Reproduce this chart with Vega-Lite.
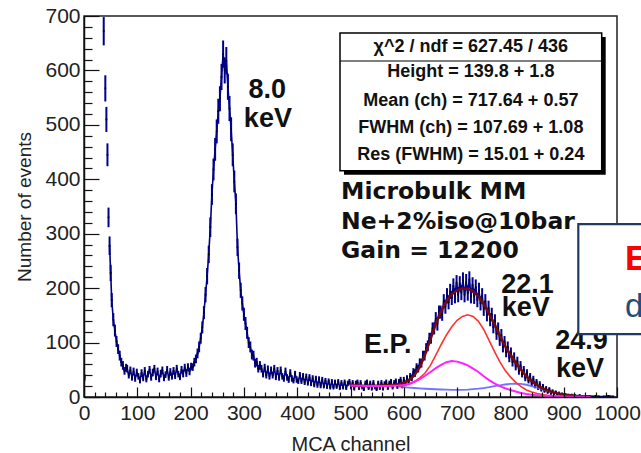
{
  "$schema": "https://vega.github.io/schema/vega-lite/v6.json",
  "width": 533,
  "height": 381,
  "autosize": {"type": "none"},
  "padding": {"left": 84, "top": 16, "right": 24, "bottom": 56},
  "background": "white",
  "config": {
    "view": {"stroke": "#222", "strokeWidth": 1.5},
    "font": "Liberation Sans"
  },
  "datasets": {
    "hist": [
      {"c":1,"n":36,"l":30,"h":42},{"c":37,"n":672,"l":646,"h":698},{"c":40,"n":567,"l":543,"h":591},{"c":42,"n":510,"l":487,"h":533},{"c":44,"n":445,"l":424,"h":466},{"c":46,"n":330,"l":312,"h":348},{"c":48,"n":278,"l":261,"h":295},{"c":50,"n":228,"l":213,"h":243},{"c":52,"n":178,"l":165,"h":191},{"c":55,"n":142,"l":130,"h":154},{"c":58,"n":122,"l":111,"h":133},{"c":61,"n":102,"l":92,"h":112},{"c":64,"n":88,"l":79,"h":97},{"c":67,"n":76,"l":67,"h":85},{"c":70,"n":64,"l":56,"h":72},{"c":73,"n":58,"l":50,"h":66},{"c":76,"n":48,"l":41,"h":55},{"c":79,"n":54,"l":47,"h":61},
      {"c":81,"n":52,"l":45,"h":59},{"c":84,"n":40,"l":34,"h":46},{"c":87,"n":49,"l":42,"h":56},{"c":90,"n":36,"l":30,"h":42},{"c":93,"n":47,"l":40,"h":54},{"c":96,"n":34,"l":28,"h":40},{"c":99,"n":45,"l":38,"h":52},{"c":102,"n":38,"l":32,"h":44},{"c":105,"n":31,"l":25,"h":37},{"c":108,"n":44,"l":37,"h":51},{"c":111,"n":35,"l":29,"h":41},{"c":114,"n":48,"l":41,"h":55},{"c":117,"n":33,"l":27,"h":39},{"c":120,"n":42,"l":36,"h":48},{"c":123,"n":50,"l":43,"h":57},{"c":126,"n":36,"l":30,"h":42},{"c":129,"n":45,"l":38,"h":52},{"c":132,"n":52,"l":45,"h":59},{"c":135,"n":37,"l":31,"h":43},{"c":138,"n":47,"l":40,"h":54},{"c":141,"n":33,"l":27,"h":39},{"c":144,"n":43,"l":36,"h":50},{"c":147,"n":49,"l":42,"h":56},{"c":150,"n":35,"l":29,"h":41},{"c":153,"n":41,"l":35,"h":47},{"c":156,"n":50,"l":43,"h":57},{"c":159,"n":36,"l":30,"h":42},{"c":162,"n":46,"l":39,"h":53},{"c":165,"n":38,"l":32,"h":44},{"c":168,"n":48,"l":41,"h":55},{"c":171,"n":39,"l":33,"h":45},{"c":174,"n":52,"l":45,"h":59},{"c":177,"n":42,"l":36,"h":48},{"c":180,"n":37,"l":31,"h":43},{"c":183,"n":50,"l":43,"h":57},{"c":186,"n":43,"l":36,"h":50},{"c":189,"n":54,"l":47,"h":61},{"c":192,"n":44,"l":37,"h":51},{"c":195,"n":55,"l":48,"h":62},{"c":198,"n":47,"l":40,"h":54},
      {"c":201,"n":56,"l":49,"h":63},{"c":204,"n":55,"l":48,"h":62},{"c":207,"n":64,"l":56,"h":72},{"c":210,"n":70,"l":62,"h":78},{"c":213,"n":80,"l":71,"h":89},{"c":216,"n":92,"l":82,"h":102},{"c":219,"n":108,"l":98,"h":118},{"c":222,"n":128,"l":117,"h":139},{"c":225,"n":155,"l":143,"h":167},{"c":228,"n":188,"l":174,"h":202},{"c":231,"n":222,"l":207,"h":237},{"c":234,"n":262,"l":246,"h":278},{"c":237,"n":312,"l":294,"h":330},{"c":240,"n":372,"l":353,"h":391},{"c":243,"n":418,"l":398,"h":438},{"c":246,"n":455,"l":434,"h":476},{"c":249,"n":488,"l":466,"h":510},{"c":252,"n":525,"l":502,"h":548},{"c":255,"n":548,"l":525,"h":571},{"c":258,"n":588,"l":564,"h":612},{"c":261,"n":630,"l":605,"h":655},{"c":264,"n":600,"l":576,"h":624},{"c":267,"n":618,"l":593,"h":643},{"c":270,"n":570,"l":546,"h":594},{"c":273,"n":530,"l":507,"h":553},{"c":276,"n":492,"l":470,"h":514},{"c":279,"n":445,"l":424,"h":466},{"c":282,"n":396,"l":376,"h":416},{"c":285,"n":355,"l":336,"h":374},{"c":288,"n":275,"l":259,"h":291},{"c":291,"n":232,"l":217,"h":247},{"c":294,"n":196,"l":182,"h":210},{"c":297,"n":172,"l":159,"h":185},{"c":300,"n":152,"l":140,"h":164},{"c":303,"n":135,"l":123,"h":147},{"c":306,"n":118,"l":107,"h":129},{"c":309,"n":100,"l":90,"h":110},{"c":312,"n":92,"l":82,"h":102},{"c":315,"n":78,"l":69,"h":87},{"c":318,"n":76,"l":67,"h":85},{"c":321,"n":62,"l":54,"h":70},{"c":324,"n":64,"l":56,"h":72},{"c":327,"n":52,"l":45,"h":59},{"c":330,"n":58,"l":50,"h":66},
      {"c":333,"n":52,"l":45,"h":59},{"c":336,"n":42,"l":36,"h":48},{"c":339,"n":54,"l":47,"h":61},{"c":342,"n":40,"l":34,"h":46},{"c":345,"n":51,"l":44,"h":58},{"c":348,"n":38,"l":32,"h":44},{"c":351,"n":49,"l":42,"h":56},{"c":354,"n":40,"l":34,"h":46},{"c":357,"n":52,"l":45,"h":59},{"c":360,"n":37,"l":31,"h":43},{"c":363,"n":48,"l":41,"h":55},{"c":366,"n":36,"l":30,"h":42},{"c":369,"n":49,"l":42,"h":56},{"c":372,"n":38,"l":32,"h":44},{"c":375,"n":34,"l":28,"h":40},{"c":378,"n":47,"l":40,"h":54},{"c":381,"n":36,"l":30,"h":42},{"c":384,"n":32,"l":26,"h":38},{"c":387,"n":44,"l":37,"h":51},{"c":390,"n":34,"l":28,"h":40},{"c":393,"n":30,"l":25,"h":35},{"c":396,"n":42,"l":36,"h":48},{"c":399,"n":32,"l":26,"h":38},{"c":402,"n":29,"l":24,"h":34},{"c":405,"n":40,"l":34,"h":46},{"c":408,"n":29,"l":24,"h":34},{"c":411,"n":38,"l":32,"h":44},{"c":414,"n":27,"l":22,"h":32},{"c":417,"n":37,"l":31,"h":43},{"c":420,"n":26,"l":21,"h":31},{"c":423,"n":36,"l":30,"h":42},{"c":426,"n":25,"l":20,"h":30},{"c":429,"n":34,"l":28,"h":40},{"c":432,"n":23,"l":18,"h":28},{"c":435,"n":33,"l":27,"h":39},{"c":438,"n":22,"l":17,"h":27},{"c":441,"n":32,"l":26,"h":38},{"c":444,"n":21,"l":16,"h":26},{"c":447,"n":31,"l":25,"h":37},{"c":450,"n":20,"l":16,"h":24},{"c":453,"n":30,"l":25,"h":35},{"c":456,"n":19,"l":15,"h":23},{"c":459,"n":29,"l":24,"h":34},{"c":462,"n":18,"l":14,"h":22},{"c":465,"n":28,"l":23,"h":33},{"c":468,"n":18,"l":14,"h":22},{"c":471,"n":27,"l":22,"h":32},{"c":474,"n":19,"l":15,"h":23},{"c":477,"n":28,"l":23,"h":33},{"c":480,"n":17,"l":13,"h":21},{"c":483,"n":26,"l":21,"h":31},{"c":486,"n":18,"l":14,"h":22},{"c":489,"n":27,"l":22,"h":32},{"c":492,"n":17,"l":13,"h":21},{"c":495,"n":25,"l":20,"h":30},{"c":498,"n":28,"l":23,"h":33},
      {"c":501,"n":18,"l":14,"h":22},{"c":504,"n":26,"l":21,"h":31},{"c":507,"n":16,"l":12,"h":20},{"c":510,"n":25,"l":20,"h":30},{"c":513,"n":27,"l":22,"h":32},{"c":516,"n":17,"l":13,"h":21},{"c":519,"n":26,"l":21,"h":31},{"c":522,"n":18,"l":14,"h":22},{"c":525,"n":15,"l":11,"h":19},{"c":528,"n":25,"l":20,"h":30},{"c":531,"n":27,"l":22,"h":32},{"c":534,"n":17,"l":13,"h":21},{"c":537,"n":25,"l":20,"h":30},{"c":540,"n":16,"l":12,"h":20},{"c":543,"n":26,"l":21,"h":31},{"c":546,"n":18,"l":14,"h":22},{"c":549,"n":15,"l":11,"h":19},{"c":552,"n":25,"l":20,"h":30},{"c":555,"n":17,"l":13,"h":21},{"c":558,"n":26,"l":21,"h":31},{"c":561,"n":16,"l":12,"h":20},{"c":564,"n":24,"l":19,"h":29},{"c":567,"n":27,"l":22,"h":32},{"c":570,"n":17,"l":13,"h":21},{"c":573,"n":25,"l":20,"h":30},{"c":576,"n":28,"l":23,"h":33},{"c":579,"n":18,"l":14,"h":22},{"c":582,"n":26,"l":21,"h":31},{"c":585,"n":29,"l":24,"h":34},{"c":588,"n":19,"l":15,"h":23},{"c":591,"n":28,"l":23,"h":33},{"c":594,"n":31,"l":25,"h":37},{"c":597,"n":21,"l":16,"h":26},
      {"c":600,"n":31,"l":25,"h":37},{"c":603,"n":25,"l":20,"h":30},{"c":606,"n":34,"l":28,"h":40},{"c":609,"n":28,"l":23,"h":33},{"c":612,"n":38,"l":32,"h":44},{"c":615,"n":35,"l":29,"h":41},{"c":618,"n":46,"l":39,"h":53},{"c":621,"n":44,"l":37,"h":51},{"c":624,"n":55,"l":48,"h":62},{"c":627,"n":52,"l":45,"h":59},{"c":630,"n":63,"l":55,"h":71},{"c":633,"n":62,"l":54,"h":70},{"c":636,"n":76,"l":67,"h":85},{"c":639,"n":76,"l":67,"h":85},{"c":642,"n":90,"l":81,"h":99},{"c":645,"n":94,"l":84,"h":104},{"c":648,"n":108,"l":98,"h":118},{"c":651,"n":108,"l":98,"h":118},{"c":654,"n":126,"l":115,"h":137},{"c":657,"n":126,"l":115,"h":137},{"c":660,"n":144,"l":132,"h":156},{"c":663,"n":134,"l":122,"h":146},{"c":666,"n":156,"l":144,"h":168},{"c":669,"n":156,"l":144,"h":168},{"c":672,"n":152,"l":140,"h":164},{"c":675,"n":176,"l":163,"h":189},{"c":678,"n":166,"l":153,"h":179},{"c":681,"n":186,"l":172,"h":200},{"c":684,"n":174,"l":161,"h":187},{"c":687,"n":194,"l":180,"h":208},{"c":690,"n":182,"l":169,"h":195},{"c":693,"n":204,"l":190,"h":218},{"c":696,"n":186,"l":172,"h":200},{"c":699,"n":210,"l":196,"h":224},{"c":702,"n":188,"l":174,"h":202},{"c":705,"n":208,"l":194,"h":222},{"c":708,"n":192,"l":178,"h":206},{"c":711,"n":214,"l":199,"h":229},{"c":714,"n":188,"l":174,"h":202},{"c":717,"n":211,"l":196,"h":226},{"c":720,"n":191,"l":177,"h":205},{"c":723,"n":216,"l":201,"h":231},{"c":726,"n":186,"l":172,"h":200},{"c":729,"n":206,"l":192,"h":220},{"c":732,"n":185,"l":171,"h":199},{"c":735,"n":202,"l":188,"h":216},{"c":738,"n":178,"l":165,"h":191},{"c":741,"n":196,"l":182,"h":210},{"c":744,"n":172,"l":159,"h":185},{"c":747,"n":186,"l":172,"h":200},{"c":750,"n":162,"l":149,"h":175},{"c":753,"n":176,"l":163,"h":189},{"c":756,"n":151,"l":139,"h":163},{"c":759,"n":164,"l":151,"h":177},{"c":762,"n":142,"l":130,"h":154},{"c":765,"n":152,"l":140,"h":164},{"c":768,"n":128,"l":117,"h":139},{"c":771,"n":140,"l":128,"h":152},{"c":774,"n":116,"l":105,"h":127},{"c":777,"n":126,"l":115,"h":137},{"c":780,"n":104,"l":94,"h":114},{"c":783,"n":114,"l":103,"h":125},{"c":786,"n":92,"l":82,"h":102},{"c":789,"n":102,"l":92,"h":112},{"c":792,"n":82,"l":73,"h":91},{"c":795,"n":92,"l":82,"h":102},{"c":798,"n":72,"l":64,"h":80},{"c":801,"n":82,"l":73,"h":91},{"c":804,"n":64,"l":56,"h":72},{"c":807,"n":73,"l":64,"h":82},{"c":810,"n":56,"l":49,"h":63},{"c":813,"n":66,"l":58,"h":74},{"c":816,"n":48,"l":41,"h":55},{"c":819,"n":58,"l":50,"h":66},{"c":822,"n":42,"l":36,"h":48},{"c":825,"n":50,"l":43,"h":57},{"c":828,"n":35,"l":29,"h":41},{"c":831,"n":44,"l":37,"h":51},{"c":834,"n":30,"l":25,"h":35},{"c":837,"n":38,"l":32,"h":44},{"c":840,"n":25,"l":20,"h":30},{"c":843,"n":33,"l":27,"h":39},{"c":846,"n":21,"l":16,"h":26},{"c":849,"n":28,"l":23,"h":33},{"c":852,"n":17,"l":13,"h":21},{"c":855,"n":24,"l":19,"h":29},{"c":858,"n":14,"l":10,"h":18},{"c":861,"n":20,"l":16,"h":24},{"c":864,"n":11,"l":8,"h":14},{"c":867,"n":16,"l":12,"h":20},{"c":870,"n":9,"l":6,"h":12},{"c":873,"n":14,"l":10,"h":18},{"c":876,"n":7,"l":4,"h":10},{"c":879,"n":11,"l":8,"h":14},{"c":882,"n":6,"l":4,"h":8},{"c":885,"n":9,"l":6,"h":12},{"c":888,"n":5,"l":3,"h":7},{"c":891,"n":7,"l":4,"h":10},{"c":894,"n":4,"l":2,"h":6},{"c":897,"n":6,"l":4,"h":8},
      {"c":900,"n":3,"l":1,"h":5},{"c":903,"n":5,"l":3,"h":7},{"c":906,"n":3,"l":1,"h":5},{"c":909,"n":4,"l":2,"h":6},{"c":912,"n":2,"l":1,"h":3},{"c":915,"n":4,"l":2,"h":6},{"c":918,"n":2,"l":1,"h":3},{"c":921,"n":3,"l":1,"h":5},{"c":924,"n":2,"l":1,"h":3},{"c":927,"n":1,"l":0,"h":2},{"c":930,"n":3,"l":1,"h":5},{"c":933,"n":1,"l":0,"h":2},{"c":936,"n":2,"l":1,"h":3},{"c":939,"n":1,"l":0,"h":2},{"c":942,"n":2,"l":1,"h":3},{"c":945,"n":1,"l":0,"h":2},{"c":948,"n":2,"l":1,"h":3},{"c":951,"n":1,"l":0,"h":2},{"c":954,"n":1,"l":0,"h":2},{"c":960,"n":2,"l":1,"h":3},{"c":966,"n":1,"l":0,"h":2},{"c":975,"n":1,"l":0,"h":2},{"c":984,"n":2,"l":1,"h":3},{"c":993,"n":1,"l":0,"h":2}
    ],
    "fits": [
      {"c":500,"tot":21,"red":null,"mag":21,"blu":null},
      {"c":510,"tot":20.8,"red":null,"mag":20.7,"blu":null},
      {"c":520,"tot":20.5,"red":null,"mag":20.5,"blu":null},
      {"c":530,"tot":20.4,"red":null,"mag":20.2,"blu":null},
      {"c":540,"tot":20.5,"red":null,"mag":20,"blu":null},
      {"c":550,"tot":20.7,"red":null,"mag":20,"blu":null},
      {"c":560,"tot":21,"red":null,"mag":20,"blu":null},
      {"c":570,"tot":21.5,"red":null,"mag":20.2,"blu":null},
      {"c":580,"tot":22,"red":null,"mag":20.5,"blu":null},
      {"c":590,"tot":23.5,"red":20,"mag":21,"blu":19},
      {"c":600,"tot":26,"red":21,"mag":22,"blu":18},
      {"c":610,"tot":31,"red":24,"mag":24,"blu":17.2},
      {"c":620,"tot":40,"red":28,"mag":28,"blu":16.5},
      {"c":630,"tot":55,"red":35,"mag":33,"blu":15.8},
      {"c":640,"tot":78,"red":44,"mag":39,"blu":15.2},
      {"c":650,"tot":106,"red":58,"mag":46,"blu":14.7},
      {"c":660,"tot":134,"red":77,"mag":53,"blu":14.2},
      {"c":670,"tot":158,"red":96,"mag":59,"blu":13.8},
      {"c":680,"tot":176,"red":114,"mag":64,"blu":13.5},
      {"c":690,"tot":189,"red":129,"mag":66,"blu":13.2},
      {"c":700,"tot":196,"red":141,"mag":65,"blu":13},
      {"c":710,"tot":199.5,"red":148,"mag":62,"blu":13.2},
      {"c":720,"tot":199,"red":151,"mag":58,"blu":13.6},
      {"c":730,"tot":194,"red":148,"mag":52,"blu":14.3},
      {"c":740,"tot":185,"red":139,"mag":46,"blu":15.2},
      {"c":750,"tot":171,"red":124,"mag":38,"blu":16.5},
      {"c":760,"tot":153,"red":104,"mag":31,"blu":18},
      {"c":770,"tot":134,"red":84,"mag":25,"blu":19.8},
      {"c":780,"tot":113,"red":65,"mag":20,"blu":21.5},
      {"c":790,"tot":94,"red":49,"mag":16,"blu":23},
      {"c":800,"tot":78,"red":37,"mag":13,"blu":24},
      {"c":810,"tot":63,"red":27,"mag":10,"blu":24.3},
      {"c":820,"tot":50,"red":19,"mag":7.5,"blu":24},
      {"c":830,"tot":38,"red":13,"mag":5.5,"blu":22.5},
      {"c":840,"tot":29,"red":9,"mag":4,"blu":20},
      {"c":850,"tot":21.5,"red":6.5,"mag":3,"blu":17},
      {"c":860,"tot":16,"red":4.5,"mag":2.2,"blu":14},
      {"c":870,"tot":12,"red":3.2,"mag":1.6,"blu":11},
      {"c":880,"tot":8.5,"red":2.3,"mag":1.2,"blu":8.5},
      {"c":890,"tot":6.2,"red":1.7,"mag":0.9,"blu":6.5},
      {"c":900,"tot":4.5,"red":1.2,"mag":0.7,"blu":5},
      {"c":910,"tot":3.2,"red":0.9,"mag":0.55,"blu":3.5},
      {"c":920,"tot":2.3,"red":0.7,"mag":0.45,"blu":2.5},
      {"c":930,"tot":1.6,"red":0.5,"mag":0.35,"blu":1.7},
      {"c":940,"tot":1.1,"red":0.4,"mag":0.25,"blu":1.1},
      {"c":950,"tot":0.8,"red":0.3,"mag":0.2,"blu":0.7}
    ]
  },
  "encoding": {
    "x": {
      "field": "c", "type": "quantitative",
      "scale": {"domain": [0, 1000], "nice": false, "zero": false},
      "axis": {
        "title": "MCA channel",
        "format": "d",
        "values": [0,20,40,60,80,100,120,140,160,180,200,220,240,260,280,300,320,340,360,380,400,420,440,460,480,500,520,540,560,580,600,620,640,660,680,700,720,740,760,780,800,820,840,860,880,900,920,940,960,980,1000],
        "labelExpr": "datum.value % 100 === 0 ? datum.label : ''",
        "tickSize": {"condition": {"test": "datum.value % 100 === 0", "value": -10}, "value": -5},
        "labelPadding": 15,
        "labelFlush": false,
        "labelOverlap": false,
        "grid": false,
        "domainColor": "#111", "domainWidth": 1.5,
        "tickColor": "#111", "tickWidth": 1.2,
        "labelFont": "Liberation Sans", "labelFontSize": 21, "labelColor": "#222",
        "titleFont": "Liberation Sans", "titleFontSize": 20, "titleFontWeight": "normal", "titleColor": "#222",
        "titlePadding": 6,
        "zindex": 1
      }
    },
    "y": {
      "field": "n", "type": "quantitative",
      "scale": {"domain": [0, 700], "nice": false},
      "axis": {
        "title": "Number of events",
        "values": [0,20,40,60,80,100,120,140,160,180,200,220,240,260,280,300,320,340,360,380,400,420,440,460,480,500,520,540,560,580,600,620,640,660,680,700],
        "labelExpr": "datum.value % 100 === 0 ? datum.label : ''",
        "tickSize": {"condition": {"test": "datum.value % 100 === 0", "value": -15}, "value": -8},
        "labelPadding": 19,
        "labelOverlap": false,
        "labelFlush": false,
        "grid": false,
        "domainColor": "#111", "domainWidth": 1.5,
        "tickColor": "#111", "tickWidth": 1.2,
        "labelFont": "Liberation Sans", "labelFontSize": 21, "labelColor": "#222",
        "titleFont": "Liberation Sans", "titleFontSize": 19, "titleFontWeight": "normal", "titleColor": "#222",
        "titlePadding": 10,
        "zindex": 1
      }
    }
  },
  "layer": [
    {
      "data": {"name": "hist"},
      "transform": [{"filter": "datum.c >= 48"}],
      "mark": {"type": "line", "color": "#00008b", "strokeWidth": 1.6, "clip": true}
    },
    {
      "data": {"name": "hist"},
      "mark": {"type": "rule", "color": "#00008b", "strokeWidth": 2, "clip": true},
      "encoding": {
        "y": {"field": "l", "type": "quantitative"},
        "y2": {"field": "h"}
      }
    },
    {
      "data": {"name": "hist"},
      "mark": {"type": "point", "shape": "square", "filled": true, "size": 3, "color": "#000", "opacity": 1, "clip": true}
    },
    {
      "data": {"name": "fits"},
      "mark": {"type": "line", "color": "#5a5aff", "strokeWidth": 1.8, "opacity": 0.85},
      "encoding": {"y": {"field": "blu", "type": "quantitative"}}
    },
    {
      "data": {"name": "fits"},
      "mark": {"type": "line", "color": "#ff3333", "strokeWidth": 1.6},
      "encoding": {"y": {"field": "red", "type": "quantitative"}}
    },
    {
      "data": {"name": "fits"},
      "mark": {"type": "line", "color": "#7a0a0a", "strokeWidth": 2.5},
      "encoding": {"y": {"field": "tot", "type": "quantitative"}}
    },
    {
      "data": {"name": "fits"},
      "mark": {"type": "line", "color": "#ff22ff", "strokeWidth": 2},
      "encoding": {"y": {"field": "mag", "type": "quantitative"}}
    },
    {
      "data": {"values": [{"c": 487.8, "c2": 978.8, "n": 661.4, "n2": 408.5}]},
      "mark": {"type": "rect", "color": "#000"},
      "encoding": {"x2": {"field": "c2"}, "y2": {"field": "n2"}}
    },
    {
      "data": {"values": [{"c": 480.3, "c2": 971.3, "n": 668.7, "n2": 415.8}]},
      "mark": {"type": "rect", "fill": "#fff", "stroke": "#000", "strokeWidth": 1.5},
      "encoding": {"x2": {"field": "c2"}, "y2": {"field": "n2"}}
    },
    {
      "data": {"values": [{"c": 480.3, "c2": 971.3, "n": 617.3}]},
      "mark": {"type": "rule", "color": "#000", "strokeWidth": 1.2},
      "encoding": {"x2": {"field": "c2"}}
    },
    {
      "data": {"values": [
        {"t": "χ^2 / ndf = 627.45 / 436", "c": 725.8, "n": 643.1},
        {"t": "Height = 139.8 + 1.8", "c": 725.8, "n": 596.2},
        {"t": "Mean (ch) = 717.64 + 0.57", "c": 725.8, "n": 543.8},
        {"t": "FWHM (ch) = 107.69 + 1.08", "c": 725.8, "n": 493.7},
        {"t": "Res (FWHM) = 15.01 + 0.24", "c": 725.8, "n": 444.6}
      ]},
      "mark": {"type": "text", "font": "Liberation Sans", "fontWeight": "bold", "fontSize": 18, "color": "#111", "align": "center", "baseline": "middle"},
      "encoding": {"text": {"field": "t"}}
    },
    {
      "data": {"values": [
        {"t": "8.0", "c": 344, "n": 548.6},
        {"t": "keV", "c": 345, "n": 495.5},
        {"t": "22.1", "c": 832, "n": 190.5},
        {"t": "keV", "c": 829, "n": 148.8},
        {"t": "E.P.", "c": 570, "n": 80.3},
        {"t": "24.9", "c": 933.6, "n": 87.6},
        {"t": "keV", "c": 930.6, "n": 37.3}
      ]},
      "mark": {"type": "text", "font": "Liberation Sans", "fontWeight": "bold", "fontSize": 27, "color": "#111", "align": "center", "baseline": "alphabetic"},
      "encoding": {"text": {"field": "t"}}
    },
    {
      "data": {"values": [
        {"t": "Microbulk MM", "c": 482.2, "n": 363.8},
        {"t": "Ne+2%iso@10bar", "c": 482.2, "n": 308.6},
        {"t": "Gain = 12200", "c": 482.2, "n": 255.4}
      ]},
      "mark": {"type": "text", "font": "DejaVu Sans", "fontWeight": "bold", "fontSize": 23.5, "color": "#111", "align": "left", "baseline": "alphabetic"},
      "encoding": {"text": {"field": "t"}}
    },
    {
      "data": {"values": [{"c": 927.4, "c2": 1100, "n": 317.8, "n2": 115.7}]},
      "mark": {"type": "rect", "fill": "#fff", "stroke": "#1f3b64", "strokeWidth": 2.2, "clip": false},
      "encoding": {"x2": {"field": "c2"}, "y2": {"field": "n2"}}
    },
    {
      "data": {"values": [{"t": "E", "c": 1015, "n": 233.3}]},
      "mark": {"type": "text", "font": "Liberation Sans", "fontWeight": "bold", "fontSize": 35, "color": "#ff0000", "align": "left", "baseline": "alphabetic"},
      "encoding": {"text": {"field": "t"}}
    },
    {
      "data": {"values": [{"t": "d", "c": 1015, "n": 146.4}]},
      "mark": {"type": "text", "font": "Liberation Sans", "fontSize": 33, "color": "#1f4e79", "align": "left", "baseline": "alphabetic"},
      "encoding": {"text": {"field": "t"}}
    }
  ]
}
